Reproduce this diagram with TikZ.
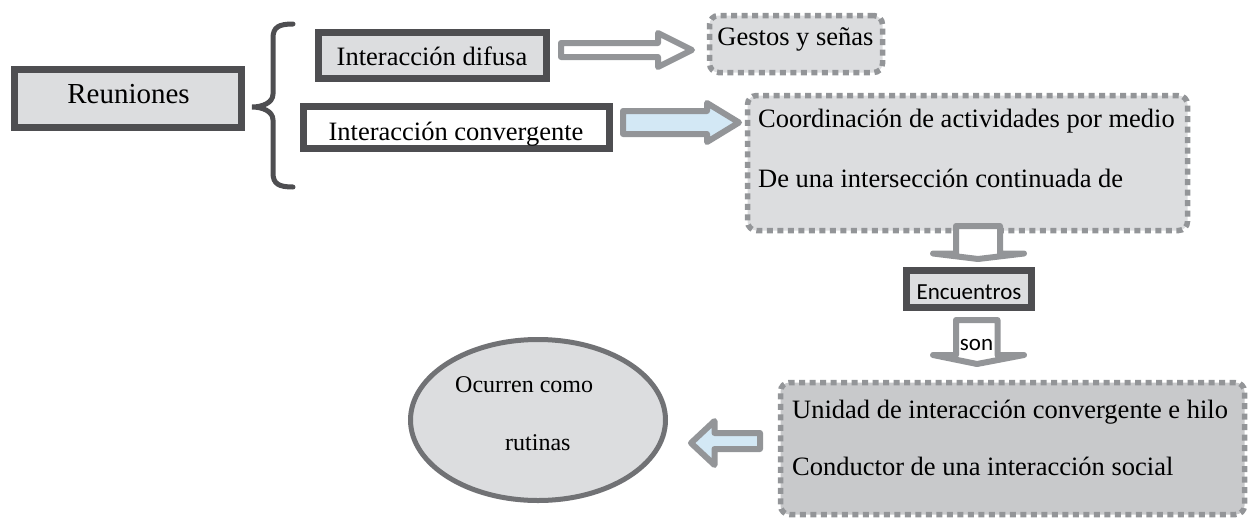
\documentclass[tikz,border=0pt]{standalone}
\usepackage{fontspec}
\usetikzlibrary{shapes.geometric}
\setmainfont{Liberation Serif}
\newfontfamily\calibfont{Carlito}
\definecolor{darkb}{HTML}{4E4E51}
\definecolor{lgray}{HTML}{DCDDDF}
\definecolor{dgray}{HTML}{939598}
\definecolor{agray}{HTML}{939598}
\definecolor{lblue}{HTML}{D3E8F5}
\definecolor{mgray}{HTML}{C8C9CB}
\definecolor{egray}{HTML}{717275}
\begin{document}
\begin{tikzpicture}[x=1pt,y=-1pt,
  darkbox/.style={draw=darkb, line width=7pt, fill=lgray, inner sep=0pt},
  dotbox/.style={draw=dgray, line width=5.5pt, dash pattern=on 6pt off 4.5pt, rounded corners=9pt, fill=lgray, inner sep=0pt},
  txt/.style={font=\fontsize{26.5}{30}\selectfont, inner sep=0pt, anchor=base west},
  ctxt/.style={font=\fontsize{26.5}{30}\selectfont, inner sep=0pt, anchor=base},
  hollowarrow/.style={draw=agray, line width=6pt, line join=round, fill=white},
  bluearrow/.style={draw=agray, line width=6pt, line join=round, fill=lblue},
  bracestyle/.style={draw=darkb, line width=5pt, line cap=round}]
\useasboundingbox (0,0) rectangle (1248,520);

% Left part
\node[darkbox, minimum width=227pt, minimum height=58pt] (reun) at (128,98.5) {};
\node[ctxt, font=\fontsize{29}{32}\selectfont] (reunT) at (128.5,103) {Reuniones};

\draw[bracestyle] (293,24) .. controls (279,24) and (273,27) .. (273,38) -- (273,94)
  .. controls (273,103) and (262,107) .. (252,107)
  .. controls (262,107) and (273,111) .. (273,120) -- (273,173)
  .. controls (273,184) and (279,187) .. (293,187);

\node[darkbox, minimum width=228pt, minimum height=46pt] (dif) at (432.5,55.5) {};
\node[ctxt] (difT) at (432,65) {Interacción difusa};

\node[darkbox, fill=white, minimum width=306pt, minimum height=42pt] (conv) at (456.5,127.5) {};
\node[ctxt] (convT) at (456,140) {Interacción convergente};

% Right boxes
\node[dotbox, minimum width=173pt, minimum height=57pt] (gest) at (796,44) {};
\node[ctxt] (gestT) at (795.5,45) {Gestos y señas};

\node[dotbox, minimum width=440pt, minimum height=135pt] (coord) at (967.5,163) {};
\node[txt] (coordA) at (758,127) {Coordinación de actividades por medio};
\node[txt] (coordB) at (758,187) {De una intersección continuada de};

\node[darkbox, line width=6.5pt, minimum width=125pt, minimum height=37pt] (enc) at (969,289) {};
\node[anchor=base, inner sep=0pt, font=\calibfont\fontsize{23}{26}\selectfont] (encT) at (969,299) {Encuentros};

\node[dotbox, fill=mgray, minimum width=464pt, minimum height=132pt] (unid) at (1012.5,448.5) {};
\node[txt] (unidA) at (792,418) {Unidad de interacción convergente e hilo};
\node[txt] (unidB) at (792,475) {Conductor de una interacción social};

\node[draw=egray, line width=5pt, fill=lgray, ellipse, minimum width=255pt, minimum height=161pt, inner sep=0pt] (ell) at (538,420) {};
\node[txt, font=\fontsize{24}{28}\selectfont] (ellA) at (455,392) {Ocurren como};
\node[txt, font=\fontsize{24}{28}\selectfont] (ellB) at (505,450) {rutinas};

% Block arrows
\draw[hollowarrow] (561,43) -- (658,43) -- (658,33) -- (692,50) -- (658,67) -- (658,57) -- (561,57) -- cycle;
\draw[bluearrow] (623,111) -- (707,111) -- (707,103) -- (739,122.5) -- (707,142) -- (707,134) -- (623,134) -- cycle;
\draw[hollowarrow] (956,226) -- (1000,226) -- (1000,253.5) -- (1024,253.5) -- (978,259) -- (933,253.5) -- (956,253.5) -- cycle;
\draw[hollowarrow] (956,320) -- (997.5,320) -- (997.5,355) -- (1024,355) -- (977,364) -- (933,355) -- (956,355) -- cycle;
\node[anchor=base, inner sep=0pt, font=\calibfont\fontsize{23}{26}\selectfont] (son) at (976.5,350) {son};
\draw[bluearrow] (760,433) -- (714.5,433) -- (714.5,421) -- (691,443) -- (714.5,465) -- (714.5,449) -- (760,449) -- cycle;
\end{tikzpicture}
\end{document}
